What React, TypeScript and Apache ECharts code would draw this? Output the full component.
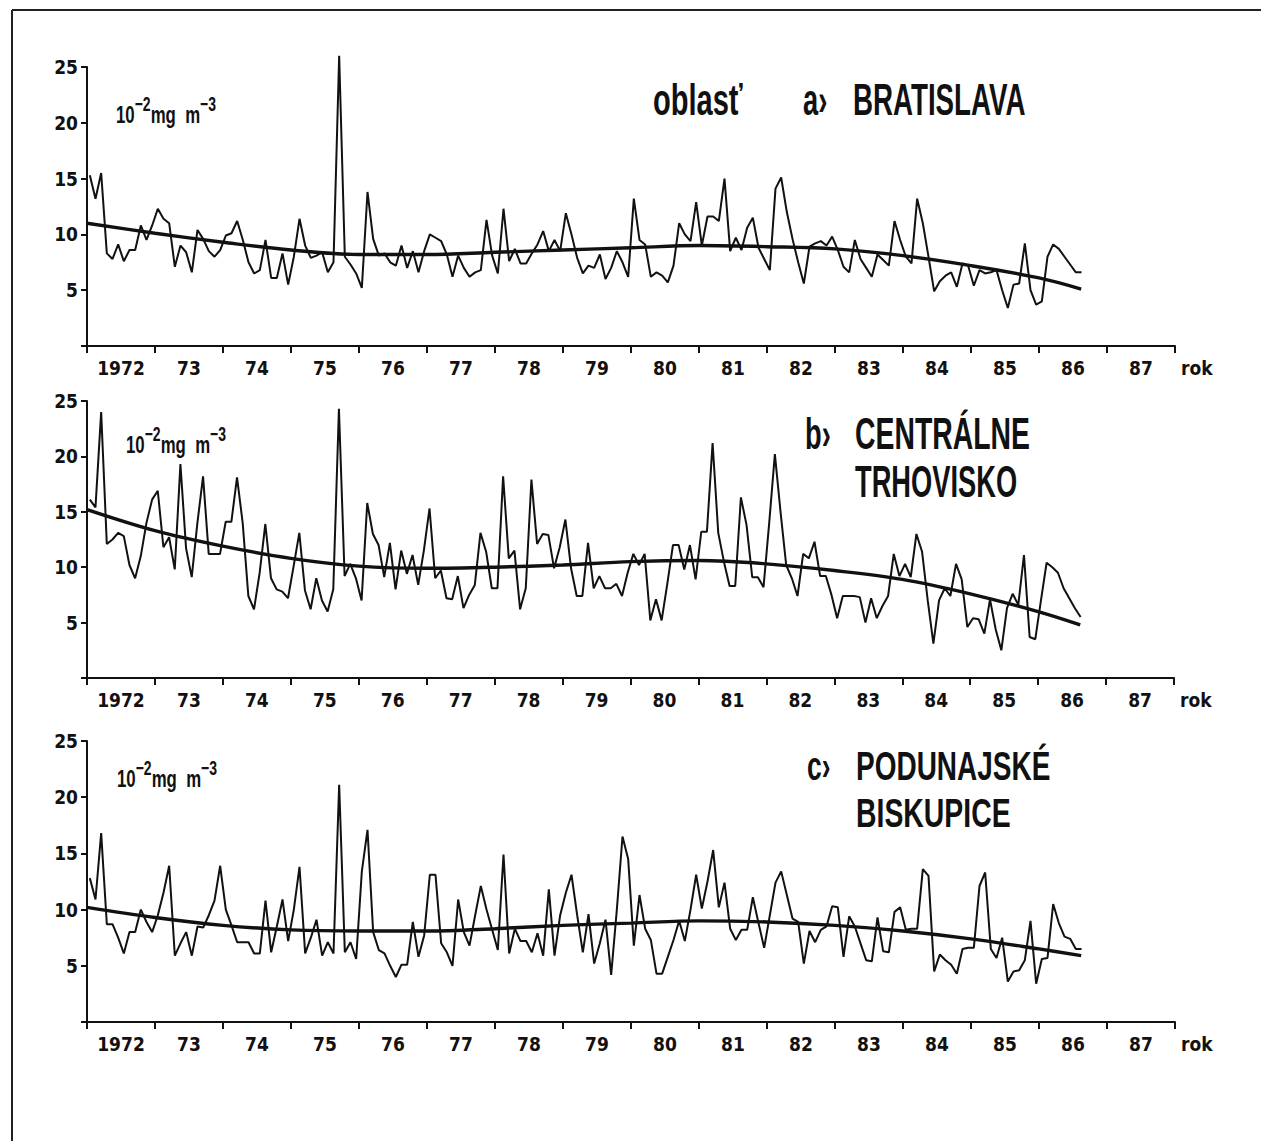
import React, { useEffect, useRef } from "react";
import * as echarts from "echarts";

// ---------- data ----------
const START_YEAR = 1972;
const yearLabels = ["1972", "73", "74", "75", "76", "77", "78", "79", "80", "81", "82", "83", "84", "85", "86", "87"];
const yTicks = [0, 5, 10, 15, 20, 25];

// monthly means, Jan 1972 .. Aug 1986 (10^-2 mg m^-3)
const bratislava = [
  15.3, 13.2, 15.5, 8.3, 7.8, 9.1, 7.6, 8.6, 8.6, 10.8, 9.5, 10.8,
  12.3, 11.4, 11.0, 7.1, 9.0, 8.4, 6.6, 10.4, 9.6, 8.5, 8.0, 8.6,
  9.9, 10.1, 11.2, 9.5, 7.5, 6.5, 6.8, 9.5, 6.1, 6.1, 8.3, 5.5,
  8.0, 11.4, 9.0, 7.9, 8.1, 8.4, 6.6, 7.5, 26.0, 8.0, 7.3, 6.5,
  5.2, 13.8, 9.6, 8.1, 8.3, 7.5, 7.2, 9.0, 7.0, 8.5, 6.6, 8.5,
  10.0, 9.7, 9.4, 8.2, 6.2, 8.1, 7.0, 6.2, 6.6, 6.8, 11.3, 8.1,
  6.5, 12.3, 7.6, 8.7, 7.4, 7.4, 8.3, 9.1, 10.3, 8.5, 9.5, 8.5,
  11.9, 10.0, 7.9, 6.5, 7.2, 7.0, 8.2, 6.0, 7.0, 8.5, 7.5, 6.2,
  13.2, 9.5, 9.1, 6.2, 6.6, 6.3, 5.7, 7.2, 11.0, 10.0, 9.4, 12.9,
  9.0, 11.6, 11.6, 11.2, 15.0, 8.5, 9.7, 8.6, 10.6, 11.5, 8.8, 7.8,
  6.8, 14.1, 15.1, 12.0, 9.6, 7.5, 5.6, 8.9, 9.2, 9.4, 9.0, 9.8,
  8.6, 7.1, 6.6, 9.5, 7.8, 7.0, 6.2, 8.2, 7.7, 7.2, 11.2, 9.5,
  8.0, 7.4, 13.2, 11.0, 8.0, 4.9, 5.8, 6.3, 6.6, 5.3, 7.4, 7.2,
  5.4, 6.8, 6.5, 6.6, 6.8, 5.0, 3.4, 5.5, 5.6, 9.2, 5.0, 3.7,
  4.0, 8.0, 9.1, 8.7, 8.0, 7.3, 6.6, 6.6,
];

const centralneTrhovisko = [
  16.1, 15.4, 24.0, 12.1, 12.5, 13.1, 12.8, 10.2, 9.0, 11.0, 14.0, 16.1,
  16.9, 11.8, 12.7, 9.8, 19.3, 11.7, 9.1, 14.0, 18.2, 11.2, 11.2, 11.2,
  14.1, 14.1, 18.1, 14.0, 7.4, 6.2, 9.5, 13.9, 9.0, 8.0, 7.8, 7.2,
  10.1, 13.1, 7.9, 6.2, 9.0, 7.0, 6.0, 8.0, 24.3, 9.2, 10.3, 9.0,
  7.0, 15.8, 13.0, 12.0, 9.1, 12.2, 8.0, 11.5, 9.4, 11.1, 8.4, 11.5,
  15.3, 9.0, 9.7, 7.2, 7.1, 9.2, 6.3, 7.5, 8.4, 13.1, 11.4, 8.1,
  8.1, 18.2, 10.8, 11.5, 6.2, 8.1, 17.9, 12.1, 13.0, 12.9, 9.9, 11.8,
  14.3, 9.9, 7.4, 7.4, 12.2, 8.1, 9.2, 8.1, 8.1, 8.5, 7.4, 9.5,
  11.2, 10.2, 11.2, 5.2, 7.1, 5.2, 8.5, 12.0, 12.0, 9.8, 12.0, 8.9,
  13.2, 13.2, 21.2, 13.1, 10.5, 8.3, 8.3, 16.3, 13.8, 9.1, 9.1, 8.2,
  14.0, 20.2, 15.0, 10.2, 9.0, 7.4, 11.2, 10.8, 12.3, 9.2, 9.2, 7.5,
  5.4, 7.4, 7.4, 7.4, 7.3, 5.0, 7.2, 5.4, 6.5, 7.4, 11.2, 9.2,
  10.3, 9.1, 13.0, 11.4, 7.0, 3.1, 7.0, 8.1, 7.4, 10.3, 8.9, 4.6,
  5.4, 5.3, 4.0, 7.1, 4.4, 2.5, 6.3, 7.6, 6.6, 11.1, 3.7, 3.5,
  7.0, 10.4, 10.0, 9.5, 8.1, 7.2, 6.3, 5.5,
];

const podunajskeBiskupice = [
  12.8, 10.9, 16.8, 8.7, 8.7, 7.5, 6.1, 8.0, 8.0, 10.0, 8.9, 8.0,
  9.5, 11.5, 13.9, 5.9, 7.0, 8.0, 5.9, 8.5, 8.4, 9.5, 10.8, 13.9,
  10.0, 8.6, 7.1, 7.1, 7.1, 6.1, 6.1, 10.8, 6.2, 8.5, 10.9, 7.2,
  10.0, 13.8, 6.1, 7.5, 9.1, 5.9, 7.1, 6.1, 21.1, 6.2, 7.1, 5.6,
  13.4, 17.1, 8.0, 6.4, 6.1, 5.0, 4.0, 5.1, 5.1, 8.9, 5.8, 7.7,
  13.1, 13.1, 7.0, 6.2, 5.0, 10.9, 8.0, 6.8, 9.5, 12.1, 10.0, 8.2,
  6.4, 14.9, 6.1, 8.3, 7.2, 7.2, 6.2, 7.9, 5.9, 11.8, 5.9, 9.5,
  11.5, 13.1, 9.5, 6.2, 9.6, 5.2, 7.0, 9.1, 4.2, 10.0, 16.5, 14.5,
  6.8, 11.3, 8.3, 7.3, 4.3, 4.3, 5.8, 7.3, 9.0, 7.2, 10.0, 13.1,
  10.1, 12.5, 15.3, 10.2, 12.4, 8.3, 7.3, 8.2, 8.2, 11.1, 8.8, 6.6,
  9.5, 12.4, 13.4, 11.3, 9.2, 8.9, 5.2, 8.1, 7.1, 8.2, 8.5, 10.3,
  10.2, 5.8, 9.4, 8.5, 7.0, 5.5, 5.4, 9.3, 6.3, 6.2, 9.8, 10.2,
  8.2, 8.3, 8.3, 13.6, 13.0, 4.5, 6.0, 5.5, 5.1, 4.3, 6.5, 6.6,
  6.6, 12.1, 13.3, 6.5, 5.7, 7.5, 3.6, 4.5, 4.6, 5.5, 9.0, 3.4,
  5.6, 5.7, 10.5, 8.8, 7.6, 7.4, 6.5, 6.5,
];

// smoothed trend curves, read at year boundaries (last knot = end of record)
const trendYears = [1972, 1973, 1974, 1975, 1976, 1977, 1978, 1979, 1980, 1981, 1982, 1983, 1984, 1985, 1986, 1986.62];
const trendBratislava = [11.0, 10.1, 9.3, 8.6, 8.2, 8.2, 8.4, 8.6, 8.8, 9.0, 8.9, 8.7, 8.1, 7.2, 6.1, 5.1];
const trendCentralne = [15.2, 13.3, 11.9, 10.8, 10.1, 9.9, 10.0, 10.2, 10.5, 10.6, 10.3, 9.7, 8.9, 7.6, 6.0, 4.8];
const trendPodunajske = [10.2, 9.3, 8.6, 8.2, 8.1, 8.1, 8.3, 8.6, 8.8, 9.0, 8.9, 8.6, 8.1, 7.4, 6.5, 5.9];

// ---------- styling ----------
const INK = "#111111";
const NARROW = "'Liberation Sans Narrow', 'DejaVu Sans Condensed', 'Liberation Sans', sans-serif";
const WIDE = "'Liberation Sans', 'DejaVu Sans', sans-serif";

const panels = [
  { values: bratislava, trend: trendBratislava, grid: { left: 87, top: 67, width: 1088, height: 279 } },
  { values: centralneTrhovisko, trend: trendCentralne, grid: { left: 87, top: 401, width: 1087, height: 277 } },
  { values: podunajskeBiskupice, trend: trendPodunajske, grid: { left: 87, top: 741, width: 1088, height: 281 } },
];

function monthPositions(n: number): number[] {
  const out: number[] = [];
  for (let i = 0; i < n; i++) out.push(START_YEAR + (i + 0.5) / 12);
  return out;
}

function titleText(text: string, x: number, baseline: number, size: number, sx: number) {
  return {
    type: "text",
    x,
    y: baseline - 0.35 * size,
    scaleX: sx,
    silent: true,
    style: {
      text,
      fontSize: size,
      fontWeight: "bold",
      fontFamily: WIDE,
      fill: INK,
      align: "left",
      verticalAlign: "middle",
      textAlign: "left",
      textVerticalAlign: "middle",
    },
  };
}

function unitText(x: number, y: number) {
  return {
    type: "text",
    x,
    y,
    scaleX: 0.7,
    silent: true,
    style: {
      text: "{n|10}{s|−2}{n|mg  m}{s|−3}",
      fill: INK,
      fontFamily: WIDE,
      fontWeight: "bold",
      fontSize: 24,
      rich: {
        n: { fontSize: 24, fontWeight: "bold", fontFamily: WIDE, fill: INK, lineHeight: 32, verticalAlign: "bottom" },
        s: { fontSize: 20, fontWeight: "bold", fontFamily: WIDE, fill: INK, lineHeight: 32, verticalAlign: "top" },
      },
    },
  };
}

function buildOption() {
  const grids: any[] = [];
  const xAxes: any[] = [];
  const yAxes: any[] = [];
  const series: any[] = [];

  panels.forEach((p, k) => {
    grids.push({ ...p.grid, containLabel: false });
    xAxes.push({
      type: "category",
      gridIndex: k,
      data: yearLabels,
      boundaryGap: true,
      axisLine: { show: true, lineStyle: { color: INK, width: 2 } },
      axisTick: { show: true, alignWithLabel: false, length: 7, inside: false, lineStyle: { color: INK, width: 2 } },
      axisLabel: { interval: 0, color: INK, fontSize: 19, fontWeight: "bold", fontFamily: NARROW, margin: 12 },
      splitLine: { show: false },
      name: "rok",
      nameLocation: "end",
      nameGap: 6,
      nameTextStyle: { color: INK, fontSize: 19, fontWeight: "bold", fontFamily: NARROW, verticalAlign: "top", padding: [12, 0, 0, 0] },
    });
    xAxes.push({ type: "value", gridIndex: k, min: 1972, max: 1988, show: false });
    yAxes.push({
      type: "value",
      gridIndex: k,
      min: yTicks[0],
      max: yTicks[yTicks.length - 1],
      interval: 5,
      axisLine: { show: true, lineStyle: { color: INK, width: 2 } },
      axisTick: { show: true, length: 6, lineStyle: { color: INK, width: 2 } },
      axisLabel: {
        color: INK,
        fontSize: 19,
        fontWeight: "bold",
        fontFamily: NARROW,
        margin: 9,
        formatter: (v: number) => (v === 0 ? "" : String(v)),
      },
      splitLine: { show: false },
    });
    const xs = monthPositions(p.values.length);
    series.push({
      type: "line",
      xAxisIndex: 2 * k + 1,
      yAxisIndex: k,
      data: xs.map((x, i) => [x, p.values[i]]),
      showSymbol: false,
      symbol: "none",
      clip: false,
      lineStyle: { color: INK, width: 2 },
      silent: true,
    });
    series.push({
      type: "line",
      xAxisIndex: 2 * k + 1,
      yAxisIndex: k,
      data: trendYears.map((x, i) => [x, p.trend[i]]),
      smooth: 0.35,
      showSymbol: false,
      symbol: "none",
      clip: false,
      lineStyle: { color: INK, width: 3.4 },
      silent: true,
    });
  });

  const graphic: any[] = [
    { type: "line", silent: true, shape: { x1: 12, y1: 10, x2: 1261, y2: 10 }, style: { stroke: "#222", lineWidth: 2 } },
    { type: "line", silent: true, shape: { x1: 12, y1: 10, x2: 12, y2: 1141 }, style: { stroke: "#222", lineWidth: 2 } },
    titleText("oblasť", 653, 115, 44, 0.66),
    titleText("a›", 803, 115, 44, 0.62),
    titleText("BRATISLAVA", 853, 115, 44, 0.63),
    titleText("b›", 805, 449, 44, 0.62),
    titleText("CENTRÁLNE", 855, 449, 44, 0.645),
    titleText("TRHOVISKO", 855, 497, 44, 0.62),
    titleText("c›", 807, 780, 40, 0.66),
    titleText("PODUNAJSKÉ", 856, 780, 40, 0.7),
    titleText("BISKUPICE", 856, 827, 40, 0.71),
    unitText(116, 94),
    unitText(126, 424),
    unitText(117, 758),
  ];

  return {
    animation: false,
    backgroundColor: "#ffffff",
    grid: grids,
    xAxis: xAxes,
    yAxis: yAxes,
    series,
    graphic,
  };
}

export default function App() {
  const ref = useRef<HTMLDivElement>(null);
  useEffect(() => {
    if (!ref.current) return;
    const chart = echarts.init(ref.current, undefined, { renderer: "svg" });
    chart.setOption(buildOption() as any);
    return () => chart.dispose();
  }, []);
  return (
    <div
      ref={ref}
      style={{ position: "absolute", left: 0, top: 0, width: 1261, height: 1141, background: "#ffffff" }}
    />
  );
}
